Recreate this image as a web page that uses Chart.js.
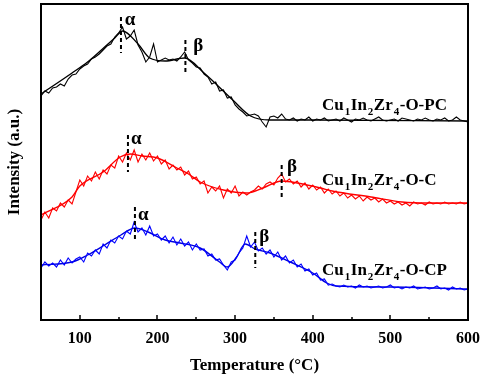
<!DOCTYPE html>
<html>
<head>
<meta charset="utf-8">
<script src="https://cdn.jsdelivr.net/npm/chart.js@4.4.1/dist/chart.umd.min.js"></script>
<style>
  html, body { margin: 0; padding: 0; background: #fff; }
  #wrap { width: 484px; height: 378px; }
</style>
</head>
<body>
<div id="wrap"><canvas id="tprChart" width="484" height="378"></canvas></div>
<script>
// raw TPR traces, sampled every 5 °C
const rawTemps = [];
for (let t = 50; t <= 600; t += 5) rawTemps.push(t);

const rawPC = [224,229,227,232,233,236,234,241,245,246,251,254,256,261,263,266,270,274,276,283,
  287,293,281,284,290,275,268,258,263,276,258,260,262,260,261,259,263,268,260,257,
  253,252,246,243,236,238,229,230,222,223,215,211,208,204,205,206,204,198,193,203,
  204,202,206,201,200,202,199,201,200,203,199,201,200,202,199,200,201,199,202,200,
  198,201,200,202,200,199,201,203,200,199,200,201,199,202,201,200,199,201,200,202,
  200,199,201,200,202,199,200,203,200,199,198];
const rawC = [100,108,102,112,109,117,113,120,116,128,140,134,144,139,148,141,150,146,155,152,
  164,158,167,160,170,158,166,160,167,159,164,156,160,151,155,150,153,145,149,141,
  143,136,139,127,133,129,134,122,131,127,134,124,128,125,128,130,134,131,136,138,
  135,142,146,138,141,136,139,133,137,131,135,130,133,127,131,126,129,124,127,122,
  125,121,124,119,123,120,122,118,121,117,119,116,118,115,117,114,118,116,117,115,
  118,116,117,116,118,116,117,116,118,116,117];
const rawCP = [52,58,54,57,53,60,55,62,57,61,63,58,67,64,70,66,76,72,80,77,
  84,81,89,86,98,88,92,85,94,84,86,80,84,77,83,75,81,74,78,70,
  76,70,71,64,66,60,61,55,50,58,60,67,72,84,73,78,69,72,66,70,
  63,68,60,64,57,60,53,56,49,51,45,47,40,41,35,36,34,33,35,33,
  34,32,35,33,34,32,33,34,32,33,35,32,33,31,33,32,34,31,32,33,
  31,32,34,31,32,30,33,31,32,30,31];

// smoothed fits (key points)
const fitPCTemps = [50,90,110,132,145,155,175,190,210,235,260,297,320,345,400,600];
const fitPCVals  = [226,247,258,273,282,289,276,262,259,262,247,220,204,200,200,199];
const fitCTemps  = [50,90,100,130,152,165,180,200,225,240,255,285,315,336,360,380,410,425,475,515,550,600];
const fitCVals   = [105,123,134,148,163,166,164,162,152,146,138,130,127,132,139,137,132,129,123,118,117,117];
const fitCPTemps = [50,90,110,132,153,171,188,210,229,255,280,290,302,313,326,345,371,400,418,430,500,600];
const fitCPVals  = [55,58,65,75,85,92,88,80,77,72,58,53,63,76,71,67,58,47,37,34,33,31];

const tickTemps = [100,200,300,400,500,600];
const minorTemps = [150,250,350,450,550];

// peak markers: temperature, marker top/bottom, label position
const peakNames  = ['α','β','α','β','α','β'];
const peakTemps  = [153,236,162,360,171,326];
const peakTop    = [303,280,185,155,113,88];
const peakBottom = [267,245,148,120,78,52];
const peakLabelT = [158,246,166,367,175,331];
const peakLabelV = [300,274,181,153,105,83];

const sampleNames = [
  [['Cu',0],['1',1],['In',0],['2',1],['Zr',0],['4',1],['-O-PC',0]],
  [['Cu',0],['1',1],['In',0],['2',1],['Zr',0],['4',1],['-O-C',0]],
  [['Cu',0],['1',1],['In',0],['2',1],['Zr',0],['4',1],['-O-CP',0]]
];
const sampleLabelT = [412,412,412];
const sampleLabelV = [210,135,45];

const serif = "'Liberation Serif', 'Times New Roman', serif";

const toPts = (xs, ys) => xs.map((x, i) => ({ x: x, y: ys[i] }));

const rawSet = (data, color) => ({
  data: toPts(rawTemps, data), borderColor: color, borderWidth: 1.1,
  pointRadius: 0, tension: 0, fill: false
});
const fitSet = (xs, ys, color) => ({
  data: toPts(xs, ys), borderColor: color, borderWidth: 1.4,
  pointRadius: 0, cubicInterpolationMode: 'monotone', fill: false
});

const decorPlugin = {
  id: 'decor',
  afterDatasetsDraw(chart) {
    const { ctx, chartArea: a, scales: { x, y } } = chart;
    ctx.save();

    // frame + inward ticks
    ctx.strokeStyle = '#000';
    ctx.lineWidth = 2;
    ctx.strokeRect(a.left, a.top, a.right - a.left, a.bottom - a.top);
    ctx.lineWidth = 1.5;
    tickTemps.forEach(t => {
      const px = Math.round(x.getPixelForValue(t));
      ctx.beginPath(); ctx.moveTo(px, a.bottom); ctx.lineTo(px, a.bottom - 5); ctx.stroke();
    });
    minorTemps.forEach(t => {
      const px = Math.round(x.getPixelForValue(t));
      ctx.beginPath(); ctx.moveTo(px, a.bottom); ctx.lineTo(px, a.bottom - 3); ctx.stroke();
    });

    // dashed peak markers
    ctx.lineWidth = 2;
    ctx.setLineDash([4, 3]);
    peakTemps.forEach((t, i) => {
      const px = x.getPixelForValue(t);
      ctx.beginPath();
      ctx.moveTo(px, y.getPixelForValue(peakTop[i]));
      ctx.lineTo(px, y.getPixelForValue(peakBottom[i]));
      ctx.stroke();
    });
    ctx.setLineDash([]);

    ctx.fillStyle = '#000';
    ctx.textAlign = 'left';
    ctx.textBaseline = 'middle';
    ctx.font = 'bold 19px ' + serif;
    peakNames.forEach((n, i) => {
      ctx.fillText(n, x.getPixelForValue(peakLabelT[i]), y.getPixelForValue(peakLabelV[i]));
    });

    // sample names with subscripts
    ctx.textBaseline = 'alphabetic';
    sampleNames.forEach((parts, i) => {
      let px = x.getPixelForValue(sampleLabelT[i]);
      const py = y.getPixelForValue(sampleLabelV[i]);
      parts.forEach(([txt, sub]) => {
        ctx.font = sub ? 'bold 11px ' + serif : 'bold 17px ' + serif;
        ctx.fillText(txt, px, sub ? py + 5 : py);
        px += ctx.measureText(txt).width + (sub ? 0.5 : 1);
      });
    });
    ctx.restore();
  }
};

new Chart(document.getElementById('tprChart'), {
  type: 'line',
  data: {
    datasets: [
      rawSet(rawPC, '#000000'),
      fitSet(fitPCTemps, fitPCVals, '#000000'),
      rawSet(rawC, '#ff0000'),
      fitSet(fitCTemps, fitCVals, '#ff0000'),
      rawSet(rawCP, '#0000ff'),
      fitSet(fitCPTemps, fitCPVals, '#0000e0')
    ]
  },
  options: {
    responsive: false,
    animation: false,
    devicePixelRatio: 1,
    layout: { padding: { top: 4, right: 16, left: 0, bottom: 0 } },
    plugins: { legend: { display: false }, tooltip: { enabled: false } },
    scales: {
      x: {
        type: 'linear', min: 50, max: 600,
        afterBuildTicks: s => { s.ticks = tickTemps.map(v => ({ value: v })); },
        afterFit: s => { s.height = 58; s.paddingLeft = 0; s.paddingRight = 0; },
        grid: { display: false, drawTicks: false },
        border: { display: false },
        ticks: { color: '#000', padding: 9, font: { family: serif, size: 16, weight: 'bold' } },
        title: { display: true, text: 'Temperature (°C)', color: '#000', padding: { top: 0, bottom: 2 },
                 font: { family: serif, size: 17, weight: 'bold' } }
      },
      y: {
        min: 0, max: 316,
        afterFit: s => { s.width = 41; s.paddingTop = 0; s.paddingBottom = 0; },
        grid: { display: false, drawTicks: false },
        border: { display: false },
        ticks: { display: false },
        title: { display: true, text: 'Intensity (a.u.)', color: '#000', padding: { top: 4, bottom: 0 },
                 font: { family: serif, size: 17, weight: 'bold' } }
      }
    }
  },
  plugins: [decorPlugin]
});
</script>
</body>
</html>
